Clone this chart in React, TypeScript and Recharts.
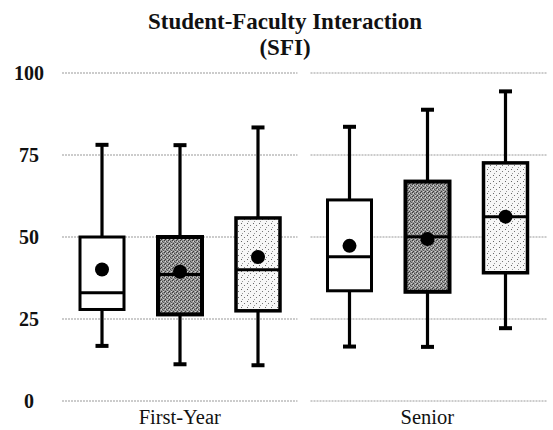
import React from 'react';
import { ComposedChart, Bar, XAxis, YAxis, CartesianGrid } from 'recharts';

const categories = ['First-Year', 'Senior'];
const seriesKeys = ['groupA', 'groupB', 'groupC'];
const yTicks = [0, 25, 50, 75, 100];

// [category][series]
const minValues = [
  [16.8, 11.2, 10.9],
  [16.6, 16.5, 22.2],
];
const q1Values = [
  [27.9, 26.4, 27.5],
  [33.6, 33.3, 39.1],
];
const medianValues = [
  [33.0, 38.6, 40.0],
  [44.0, 50.1, 56.2],
];
const q3Values = [
  [50.0, 50.0, 55.8],
  [61.3, 66.9, 72.6],
];
const maxValues = [
  [78.1, 78.0, 83.4],
  [83.6, 88.8, 94.4],
];
const meanValues = [
  [40.1, 39.4, 43.9],
  [47.3, 49.4, 56.2],
];

const data = categories.map((category, ci) => {
  const row: any = { category };
  seriesKeys.forEach((k, si) => {
    row[k] = {
      min: minValues[ci][si],
      q1: q1Values[ci][si],
      median: medianValues[ci][si],
      q3: q3Values[ci][si],
      max: maxValues[ci][si],
      mean: meanValues[ci][si],
    };
  });
  return row;
});

const FONT = '"Liberation Serif", "Times New Roman", serif';

const makeBoxShape = (key: string, fill: string, boxStroke: number) => (props: any) => {
  const { x, y, width, height, payload } = props;
  const s = payload[key];
  const top = Math.min(y, y + height);
  const h = Math.abs(height);
  const k = h / (s.max - s.min);
  const py = (v: number) => top + (s.max - v) * k;
  const cx = x + width / 2;
  return (
    <g>
      <line x1={cx} x2={cx} y1={py(s.max)} y2={py(s.min)} stroke="#000" strokeWidth={3.2} />
      <rect x={cx - 6.5} y={py(s.max) - 2} width={13} height={4} fill="#000" />
      <rect x={cx - 6.5} y={py(s.min) - 2} width={13} height={4} fill="#000" />
      <rect
        x={x}
        y={py(s.q3)}
        width={width}
        height={py(s.q1) - py(s.q3)}
        fill={fill}
        stroke="#000"
        strokeWidth={boxStroke}
      />
      <line x1={x} x2={x + width} y1={py(s.median)} y2={py(s.median)} stroke="#000" strokeWidth={3} />
      <circle cx={cx} cy={py(s.mean)} r={7} fill="#000" />
    </g>
  );
};

const YTick = (props: any) => {
  const { y, payload } = props;
  return (
    <text x={29} y={y} textAnchor="middle" dominantBaseline="central" fontFamily={FONT} fontSize={20} fontWeight="bold" fill="#111">
      {payload.value}
    </text>
  );
};

const XTick = (props: any) => {
  const { x, y, payload } = props;
  return (
    <text x={x} y={y + 23} textAnchor="middle" fontFamily={FONT} fontSize={20.5} fill="#111">
      {payload.value}
    </text>
  );
};

const GridLine = (props: any) => {
  const { x1, x2, y1, key } = props;
  const mid = (x1 + x2) / 2;
  return (
    <g key={key}>
      <line x1={x1 + 6} x2={mid - 6} y1={y1} y2={y1} stroke="#999" strokeWidth={1} strokeDasharray="2 1" />
      <line x1={mid + 7} x2={x2 - 4} y1={y1} y2={y1} stroke="#999" strokeWidth={1} strokeDasharray="2 1" />
    </g>
  );
};

const fills = ['#ffffff', 'url(#darkStipple)', 'url(#lightStipple)'];
const strokes = [3, 4, 3.5];

export default function App() {
  return (
    <div style={{ position: 'absolute', left: 0, top: 0, width: 553, height: 430, background: '#fff' }}>
      <div
        style={{
          position: 'absolute',
          left: 85,
          top: 9,
          width: 400,
          textAlign: 'center',
          fontFamily: FONT,
          fontWeight: 'bold',
          fontSize: 23,
          lineHeight: '26px',
          color: '#111',
        }}
      >
        <div>Student-Faculty Interaction</div>
        <div>(SFI)</div>
      </div>
      <ComposedChart
        width={553}
        height={430}
        data={data}
        margin={{ top: 73, right: 2, bottom: 0, left: 0 }}
        barGap={34}
      >
        <defs>
          <pattern id="darkStipple" width={4} height={4} patternUnits="userSpaceOnUse">
            <rect width={4} height={4} fill="#969696" />
            <rect x={0} y={0} width={1} height={1} fill="#3a3a3a" />
            <rect x={2} y={1} width={1} height={1} fill="#4a4a4a" />
            <rect x={1} y={3} width={1} height={1} fill="#3a3a3a" />
            <rect x={3} y={2} width={1} height={1} fill="#5a5a5a" />
            <rect x={1} y={1} width={1} height={1} fill="#d8d8d8" />
            <rect x={3} y={3} width={1} height={1} fill="#d0d0d0" />
          </pattern>
          <pattern id="lightStipple" width={6} height={6} patternUnits="userSpaceOnUse">
            <rect width={6} height={6} fill="#f7f7f7" />
            <rect x={1} y={1} width={1} height={1} fill="#666" />
            <rect x={4} y={3} width={1} height={1} fill="#777" />
            <rect x={2} y={5} width={1} height={1} fill="#999" />
          </pattern>
        </defs>
        <CartesianGrid vertical={false} horizontal={GridLine as any} />
        <XAxis
          dataKey="category"
          axisLine={false}
          tickLine={false}
          tickSize={0}
          tickMargin={0}
          height={29}
          tick={<XTick />}
          interval={0}
        />
        <YAxis
          domain={[0, 100]}
          ticks={yTicks}
          axisLine={false}
          tickLine={false}
          width={56}
          tick={<YTick />}
          interval={0}
        />
        {seriesKeys.map((k, i) => (
          <Bar
            key={k}
            dataKey={(d: any) => [d[k].min, d[k].max]}
            barSize={44}
            shape={makeBoxShape(k, fills[i], strokes[i])}
            isAnimationActive={false}
          />
        ))}
      </ComposedChart>
    </div>
  );
}
